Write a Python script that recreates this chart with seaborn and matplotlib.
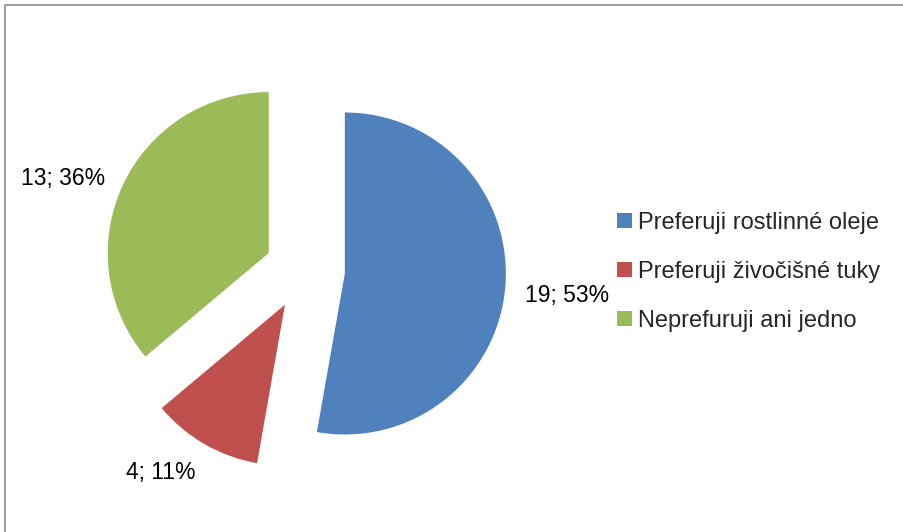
import matplotlib
matplotlib.use("Agg")
import matplotlib.pyplot as plt
from matplotlib.patches import Rectangle
import seaborn as sns

categories = ["Preferuji rostlinné oleje", "Preferuji živočišné tuky", "Neprefuruji ani jedno"]
counts = [19, 4, 13]
colors = ["#4F81BD", "#C0504D", "#9BBB59"]

sns.set_theme(style="white")
plt.rcParams["font.family"] = ["Liberation Sans", "DejaVu Sans"]

W, H = 904, 532
fig = plt.figure(figsize=(W / 100, H / 100), dpi=100)
ax = fig.add_axes([0, 0, 1, 1])

total = sum(counts)
labels = [f"{c}; {round(100 * c / total)}%" for c in counts]

# canvas in pixel units: centre, radius and explode offset are in pixels
wedges, texts = ax.pie(
    counts,
    colors=colors,
    labels=labels,
    startangle=90,
    counterclock=False,
    center=(305, 262),
    radius=161,
    explode=[40] * len(counts),
    labeldistance=1.38,
    wedgeprops=dict(linewidth=0),
    textprops=dict(fontsize=16.5, color="black"),
    frame=True,
)
ax.set_xlim(0, W)
ax.set_ylim(0, H)
ax.set_aspect("equal")
ax.axis("off")

# best-fit style nudges for the data labels (pixels)
nudges = [(1, -3), (-13, 25), (-4, -19)]
for t, (dx, dy) in zip(texts, nudges):
    x, y = t.get_position()
    t.set_position((x + dx, y + dy))
    t.set_ha("center")
    t.set_va("center")

ax.legend(
    wedges, categories,
    loc="center left", bbox_to_anchor=(617 / W, 1 - 272 / H),
    frameon=False, fontsize=17, borderpad=0,
    handlelength=0.62, handleheight=0.62, handletextpad=0.25,
    labelspacing=1.15, borderaxespad=0,
)

# chart area border
fig.patches.append(Rectangle((5 / W, -0.1), 1.2, (H - 5) / H + 0.1,
                             transform=fig.transFigure, fill=False,
                             edgecolor="#8c8c8c", linewidth=1.2))

fig.savefig("out.png", dpi=100, facecolor="white")
